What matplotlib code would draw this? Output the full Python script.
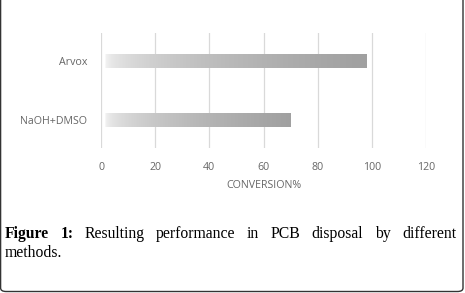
import numpy as np
import matplotlib
matplotlib.use("Agg")
import matplotlib.pyplot as plt
from matplotlib.patches import FancyBboxPatch

methods = ["NaOH+DMSO", "Arvox"]
conversion = [70, 98]
xticks = [0, 20, 40, 60, 80, 100, 120]
caption_bold = "Figure 1:"
caption_rest = "Resulting performance in PCB disposal by different methods."

W, H = 465, 293
fig = plt.figure(figsize=(W / 100, H / 100), dpi=100)
ax = fig.add_axes([101 / W, 1 - 148 / H, (426 - 101) / W, (148 - 33) / H])

ypos = np.arange(len(methods))
bars = ax.barh(ypos, conversion, height=0.24, color="none", edgecolor="none", zorder=3)

# horizontal grey gradient in each bar, light on the left
ramp = np.linspace(0, 1, 256) ** 0.45
cmap = matplotlib.colors.LinearSegmentedColormap.from_list("g", ["#f8f8f8", "#a0a0a0"])
for b in bars:
    x0, y0, w, h = b.get_x(), b.get_y(), b.get_width(), b.get_height()
    im = ax.imshow(ramp[None, :], cmap=cmap, vmin=0, vmax=1, aspect="auto",
                   extent=[x0 + 1.5, x0 + w, y0, y0 + h], zorder=3)
    im.set_clip_path(b)

ax.set_xlim(0, 120)
ax.set_ylim(-0.475, 1.475)
ax.set_xticks(xticks)
ax.set_yticks(ypos)
ax.set_yticklabels(methods)
ax.grid(axis="x", color="#d9d9d9", lw=0.9, zorder=0)
for s in ax.spines.values():
    s.set_visible(False)
ax.tick_params(length=0, labelsize=7.7, labelcolor="#666666", pad=10)
ax.tick_params(axis="y", pad=10)
for t in ax.get_xticklabels() + ax.get_yticklabels():
    t.set_family("Open Sans")
ax.set_xlabel("CONVERSION%", fontsize=7.7, color="#666666", family="Open Sans", labelpad=5)

# caption, justified on the first line
fs = 11.3
left, right = 5, 456
y1, y2 = 1 - 238 / H, 1 - 257 / H
words = [(w, True) for w in caption_bold.split()] + [(w, False) for w in caption_rest.split()]
line1, line2 = words[:-1], words[-1:]
rend = fig.canvas.get_renderer()
texts = []
for w, bold in line1:
    t = fig.text(0, y1, w, fontsize=fs, family="Liberation Serif",
                 fontweight="bold" if bold else "normal", va="baseline")
    texts.append(t)
widths = [t.get_window_extent(rend).width for t in texts]
gap = (right - left - sum(widths)) / (len(texts) - 1)
x = left
for t, wd in zip(texts, widths):
    t.set_x(x / W)
    x += wd + gap
fig.text(left / W, y2, line2[0][0], fontsize=fs, family="Liberation Serif", va="baseline")

frame = FancyBboxPatch((0.6 / W, 1.5 / H), (463 - 0.6) / W, 1.2, boxstyle="round,pad=0,rounding_size=0.012",
                       transform=fig.transFigure, fill=False, edgecolor="#333333", lw=1.0)
fig.patches.append(frame)

fig.savefig("out.png", dpi=100)
